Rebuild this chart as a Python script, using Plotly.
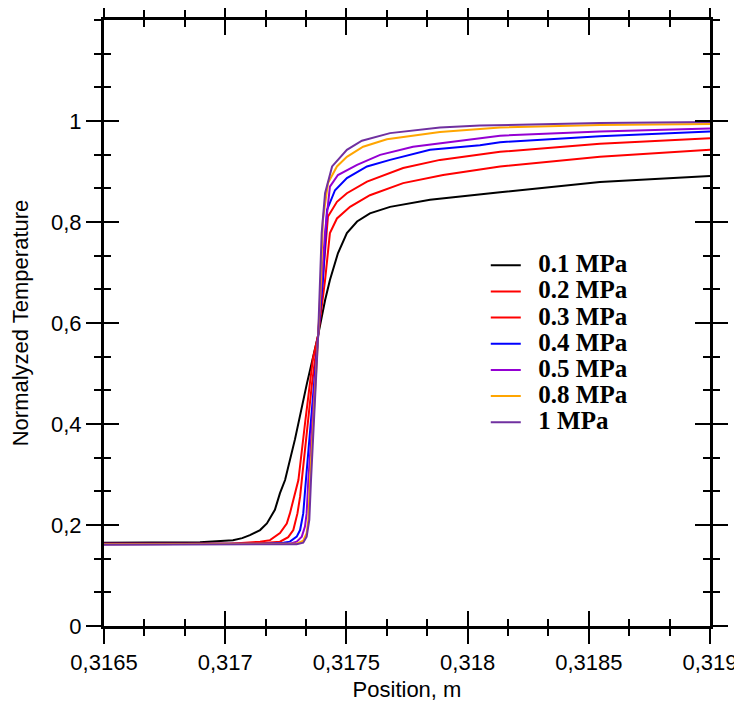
import plotly.graph_objects as go

# Position (m) and normalized temperature
x_01 = [0.316500, 0.316690, 0.316896, 0.317032, 0.317070, 0.317102, 0.317144, 0.317172, 0.317205,
        0.317226, 0.317247, 0.317288, 0.317337, 0.317383, 0.317412, 0.317432, 0.317465, 0.317502,
        0.317544, 0.317597, 0.317680, 0.317845, 0.318051, 0.318134, 0.318546, 0.319000]
y_01 = [0.165, 0.165, 0.166, 0.170, 0.174, 0.180, 0.190, 0.203, 0.230,
        0.263, 0.289, 0.370, 0.480, 0.575, 0.645, 0.685, 0.738, 0.778,
        0.801, 0.817, 0.830, 0.844, 0.855, 0.859, 0.879, 0.891]

x_02 = [0.316500, 0.317020, 0.317144, 0.317185, 0.317226, 0.317254, 0.317267, 0.317285, 0.317295,
        0.317302, 0.317329, 0.317362, 0.317383, 0.317412, 0.317432, 0.317461, 0.317515, 0.317597,
        0.317734, 0.317899, 0.318051, 0.318134, 0.318546, 0.319000]
y_02 = [0.163, 0.163, 0.167, 0.170, 0.184, 0.203, 0.223, 0.256, 0.276,
        0.289, 0.400, 0.530, 0.575, 0.685, 0.778, 0.807, 0.830, 0.853,
        0.877, 0.893, 0.904, 0.910, 0.929, 0.943]

x_03 = [0.316500, 0.317102, 0.317171, 0.317226, 0.317260, 0.317281, 0.317298, 0.317309, 0.317316,
        0.317358, 0.317383, 0.317403, 0.317424, 0.317461, 0.317502, 0.317585, 0.317734, 0.317886,
        0.318051, 0.318134, 0.318546, 0.319000]
y_03 = [0.163, 0.163, 0.165, 0.167, 0.176, 0.190, 0.223, 0.256, 0.289,
        0.480, 0.575, 0.685, 0.811, 0.840, 0.857, 0.880, 0.907, 0.923,
        0.934, 0.939, 0.955, 0.966]

x_04 = [0.316500, 0.317144, 0.317240, 0.317267, 0.317295, 0.317309, 0.317322, 0.317329, 0.317333,
        0.317383, 0.317403, 0.317420, 0.317453, 0.317502, 0.317585, 0.317680, 0.317845, 0.318051,
        0.318134, 0.318546, 0.319000]
y_04 = [0.163, 0.163, 0.165, 0.167, 0.177, 0.190, 0.223, 0.256, 0.289,
        0.572, 0.685, 0.824, 0.863, 0.887, 0.910, 0.923, 0.943, 0.952,
        0.958, 0.970, 0.979]

x_05 = [0.316500, 0.317185, 0.317267, 0.317295, 0.317316, 0.317329, 0.317336, 0.317343, 0.317383,
        0.317399, 0.317412, 0.317432, 0.317465, 0.317544, 0.317639, 0.317775, 0.318051, 0.318134,
        0.318546, 0.319000]
y_05 = [0.162, 0.162, 0.163, 0.167, 0.177, 0.197, 0.223, 0.289, 0.570,
        0.685, 0.780, 0.870, 0.893, 0.913, 0.933, 0.949, 0.966, 0.971,
        0.979, 0.985]

x_08 = [0.316500, 0.317226, 0.317295, 0.317322, 0.317336, 0.317343, 0.317350, 0.317383, 0.317395,
        0.317403, 0.317424, 0.317461, 0.317502, 0.317569, 0.317667, 0.317886, 0.318051, 0.318134,
        0.318546, 0.319000]
y_08 = [0.162, 0.162, 0.163, 0.169, 0.184, 0.210, 0.289, 0.570, 0.685,
        0.804, 0.877, 0.910, 0.929, 0.949, 0.964, 0.978, 0.984, 0.987,
        0.992, 0.994]

x_10 = [0.316500, 0.317247, 0.317295, 0.317322, 0.317336, 0.317347, 0.317354, 0.317383, 0.317393,
        0.317398, 0.317412, 0.317441, 0.317502, 0.317564, 0.317680, 0.317886, 0.318051, 0.318134,
        0.318546, 0.319000]
y_10 = [0.161, 0.161, 0.162, 0.165, 0.177, 0.210, 0.289, 0.570, 0.685,
        0.778, 0.857, 0.910, 0.943, 0.961, 0.976, 0.987, 0.991, 0.992,
        0.996, 0.998]

series_names = ["0.1 MPa", "0.2 MPa", "0.3 MPa", "0.4 MPa", "0.5 MPa", "0.8 MPa", "1 MPa"]
series_x = [x_01, x_02, x_03, x_04, x_05, x_08, x_10]
series_y = [y_01, y_02, y_03, y_04, y_05, y_08, y_10]
series_colors = ["#000000", "#ff0000", "#ff0000", "#0000ff", "#9400d3", "#ffa500", "#7030a0"]

x_tickvals = [0.3165, 0.317, 0.3175, 0.318, 0.3185, 0.319]
y_tickvals = [0, 0.2, 0.4, 0.6, 0.8, 1.0]

fig = go.Figure()
for name, xs, ys, col in zip(series_names, series_x, series_y, series_colors):
    fig.add_trace(go.Scatter(
        x=xs, y=ys, mode="lines",
        name=f'<span style="font-size:25px">\u00a0\u00a0{name}</span>',
        line=dict(color=col, width=2),
    ))
# empty trace hosting the overlay axes (inward half of the crossing ticks)
fig.add_trace(go.Scatter(x=[], y=[], xaxis="x2", yaxis="y2", showlegend=False, hoverinfo="skip"))

tick_font = dict(family="Liberation Sans, Arial, sans-serif", size=22, color="black")

common = dict(showgrid=False, zeroline=False, tickcolor="black", tickwidth=2, ticklen=15, automargin=False)

# the page body keeps its default 8px margin, so the figure is 8px smaller than the window
fig.update_layout(
    template="none",
    width=734, height=699,
    margin=dict(l=96, r=32, t=12, b=81),
    paper_bgcolor="white", plot_bgcolor="white",
    separators=", ",
    font=tick_font,
    showlegend=True,
    legend=dict(
        x=0.630, y=0.625, xanchor="left", yanchor="top",
        font=dict(family="Liberation Serif, Times New Roman, serif", size=17.8, color="black", weight="bold"),
        bgcolor="rgba(0,0,0,0)", borderwidth=0, itemwidth=30,
    ),
    xaxis=dict(
        range=[0.3165, 0.319], tickvals=x_tickvals, ticks="outside", mirror="allticks",
        showline=True, linecolor="black", linewidth=3,
        minor=dict(dtick=0.0005 / 3, tick0=0.3165, ticks="outside", ticklen=7, tickwidth=2, tickcolor="black"),
        title=dict(text="Position, m", font=dict(size=22), standoff=8),
        tickfont=tick_font, **common,
    ),
    yaxis=dict(
        range=[0, 1.2], tickvals=y_tickvals, ticks="outside", mirror="allticks",
        showline=True, linecolor="black", linewidth=3,
        minor=dict(dtick=0.2 / 3, tick0=0, ticks="outside", ticklen=7, tickwidth=2, tickcolor="black"),
        title=dict(text="Normalyzed Temperature", font=dict(size=22), standoff=20),
        tickfont=tick_font, **common,
    ),
    xaxis2=dict(
        overlaying="x", anchor="y", range=[0.3165, 0.319], tickvals=x_tickvals, ticks="inside",
        mirror="allticks", showline=False, showticklabels=False,
        minor=dict(dtick=0.0005 / 3, tick0=0.3165, ticks="inside", ticklen=7, tickwidth=2, tickcolor="black"),
        **common,
    ),
    yaxis2=dict(
        overlaying="y", anchor="x", range=[0, 1.2], tickvals=y_tickvals, ticks="inside",
        mirror="allticks", showline=False, showticklabels=False,
        minor=dict(dtick=0.2 / 3, tick0=0, ticks="inside", ticklen=7, tickwidth=2, tickcolor="black"),
        **common,
    ),
)

fig.write_html("out.html")
